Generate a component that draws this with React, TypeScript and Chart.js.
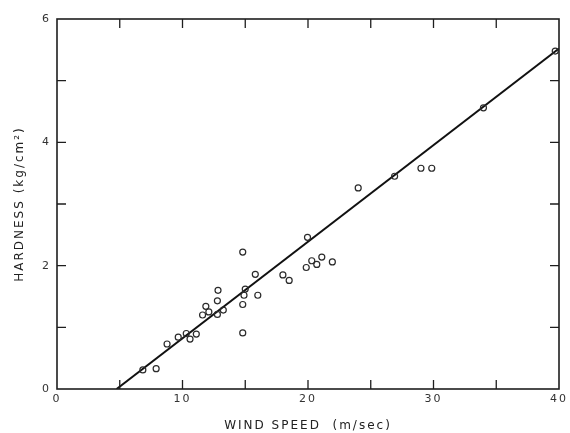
import React, { useEffect, useRef } from "react";
import { Chart, registerables } from "chart.js";

Chart.register(...registerables);

const windSpeed = [
  6.84, 7.9, 8.77, 9.66, 10.3, 10.6, 11.1, 11.6, 11.86, 12.1, 12.78, 12.78, 12.83, 13.25,
  14.8, 14.8, 14.8, 14.9, 15.0, 15.8, 16.0, 18.0, 18.5, 19.86, 19.96, 20.3, 20.7, 21.1,
  21.94, 24.0, 26.9, 29.0, 29.86, 33.98, 39.7,
];
const hardness = [
  0.31, 0.33, 0.73, 0.84, 0.9, 0.81, 0.89, 1.2, 1.34, 1.25, 1.21, 1.43, 1.6, 1.28,
  2.22, 1.37, 0.91, 1.52, 1.62, 1.86, 1.52, 1.85, 1.76, 1.97, 2.46, 2.08, 2.02, 2.14,
  2.06, 3.26, 3.45, 3.58, 3.58, 4.56, 5.48,
];
const fitX = [4.75, 40];
const fitY = [0, 5.52];

const xTickLabels = [0, 10, 20, 30, 40];
const yTickLabels = [0, 2, 4, 6];
const xMinorTicks = [5, 10, 15, 20, 25, 30, 35];
const yMinorTicks = [1, 2, 3, 4, 5];

const INK = "#1e1e1e";

const framePlugin = {
  id: "frameTicks",
  beforeDraw(chart: any) {
    chart.ctx.letterSpacing = "2px";
  },
  afterDatasetsDraw(chart: any) {
    const { ctx, chartArea } = chart;
    const { left, right, top, bottom } = chartArea;
    const xs = chart.scales.x;
    const ys = chart.scales.y;
    const L = 9;
    ctx.save();
    ctx.strokeStyle = INK;
    ctx.lineWidth = 1.6;
    ctx.strokeRect(left, top, right - left, bottom - top);
    ctx.lineWidth = 1.3;
    ctx.beginPath();
    xMinorTicks.forEach((v) => {
      const px = xs.getPixelForValue(v);
      ctx.moveTo(px, bottom);
      ctx.lineTo(px, bottom - L);
      ctx.moveTo(px, top);
      ctx.lineTo(px, top + L);
    });
    yMinorTicks.forEach((v) => {
      const py = ys.getPixelForValue(v);
      ctx.moveTo(left, py);
      ctx.lineTo(left + L, py);
      ctx.moveTo(right, py);
      ctx.lineTo(right - L, py);
    });
    ctx.stroke();
    ctx.restore();
  },
};

export default function App() {
  const ref = useRef<HTMLCanvasElement | null>(null);
  useEffect(() => {
    if (!ref.current) return;
    const chart = new Chart(ref.current, {
      type: "scatter",
      data: {
        datasets: [
          {
            label: "Hardness",
            data: windSpeed.map((x, i) => ({ x, y: hardness[i] })),
            pointStyle: "circle",
            pointRadius: 3,
            pointBorderWidth: 1.2,
            pointBorderColor: "#2a2a2a",
            pointBackgroundColor: "rgba(255,255,255,0)",
            showLine: false,
          },
          {
            label: "Fit",
            type: "line",
            data: fitX.map((x, i) => ({ x, y: fitY[i] })),
            borderColor: "#111",
            borderWidth: 2,
            pointRadius: 0,
            showLine: true,
          } as any,
        ],
      },
      options: {
        responsive: true,
        maintainAspectRatio: false,
        animation: false,
        layout: { padding: { top: 19, right: 8, left: 0, bottom: 0 } },
        plugins: {
          legend: { display: false },
          tooltip: { enabled: false },
        },
        scales: {
          x: {
            type: "linear",
            min: 0,
            max: 40,
            afterFit: (s: any) => {
              s.height = 44;
            },
            afterBuildTicks: (s: any) => {
              s.ticks = xTickLabels.map((v) => ({ value: v }));
            },
            grid: { display: false, drawTicks: false },
            border: { display: false },
            ticks: {
              padding: 4,
              color: "#333",
              font: { family: "DejaVu Sans", size: 11 },
              maxRotation: 0,
            },
            title: {
              display: true,
              text: "WIND SPEED  (m/sec)",
              color: "#222",
              font: { family: "DejaVu Sans", size: 12 },
              padding: { top: 0, bottom: 0 },
            },
          },
          y: {
            type: "linear",
            min: 0,
            max: 6,
            afterFit: (s: any) => {
              s.width = 57;
            },
            afterBuildTicks: (s: any) => {
              s.ticks = yTickLabels.map((v) => ({ value: v }));
            },
            grid: { display: false, drawTicks: false },
            border: { display: false },
            ticks: {
              padding: 6,
              color: "#333",
              font: { family: "DejaVu Sans", size: 11 },
            },
            title: {
              display: true,
              text: "HARDNESS (kg/cm²)",
              color: "#222",
              font: { family: "DejaVu Sans", size: 12 },
              padding: { top: 13, bottom: 0 },
            },
          },
        },
      },
      plugins: [framePlugin],
    });
    return () => chart.destroy();
  }, []);
  return (
    <div
      style={{
        position: "absolute",
        left: 0,
        top: 0,
        width: 570,
        height: 433,
        background: "#fff",
      }}
    >
      <canvas ref={ref} />
    </div>
  );
}
